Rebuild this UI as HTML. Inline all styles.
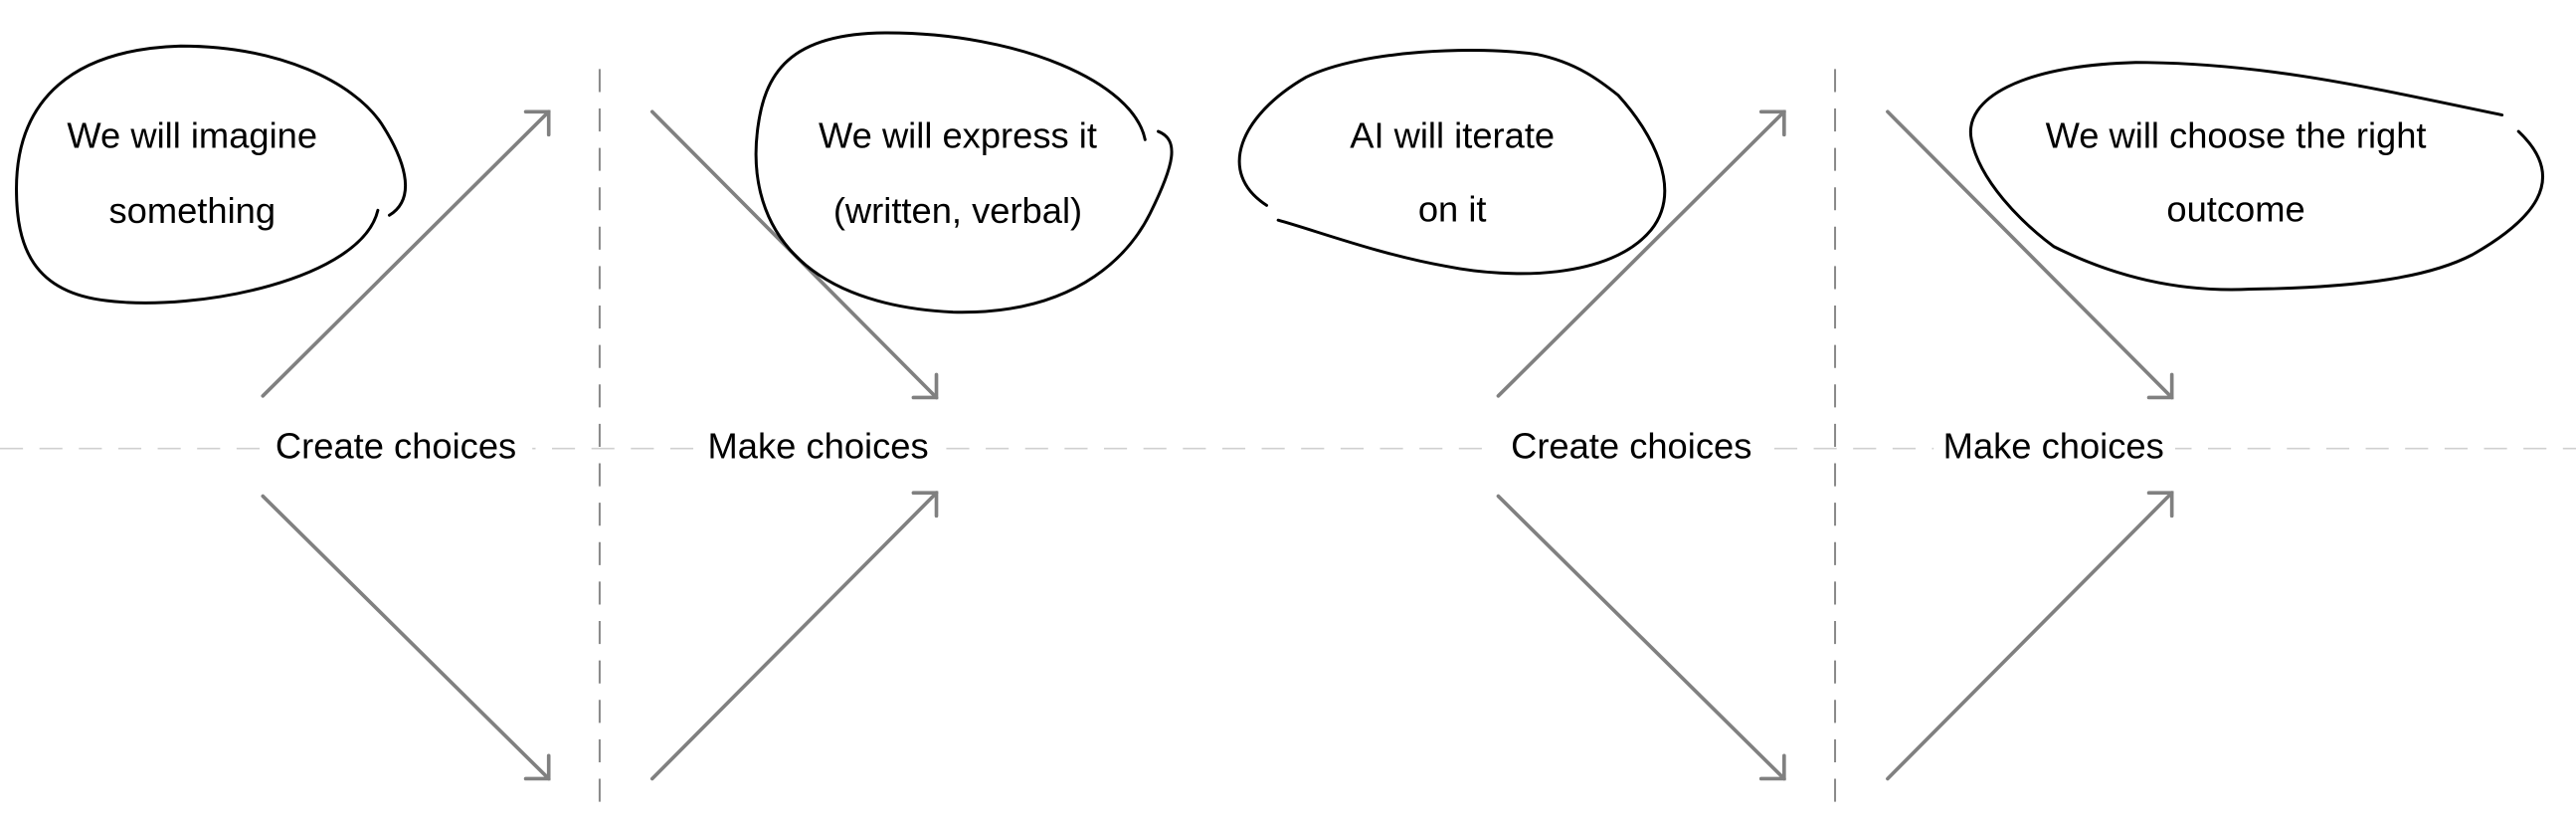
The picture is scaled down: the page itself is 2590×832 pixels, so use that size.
<!DOCTYPE html>
<html><head><meta charset="utf-8"><style>
html,body{margin:0;padding:0;background:#fff;}
svg{display:block;}
text{font-family:"Liberation Sans",sans-serif;font-size:22px;fill:#000;text-anchor:middle;dominant-baseline:middle;}
</style></head><body>
<svg width="2590" height="832" viewBox="0 0 1568 504" preserveAspectRatio="none" xmlns="http://www.w3.org/2000/svg">
<line x1="0" y1="273" x2="1568" y2="273" stroke="#d0d0d0" stroke-width="1" stroke-dasharray="14,10"/>
<line x1="365" y1="42" x2="365" y2="490" stroke="#888" stroke-width="1.2" stroke-dasharray="14,10"/>
<line x1="1117" y1="42" x2="1117" y2="490" stroke="#888" stroke-width="1.2" stroke-dasharray="14,10"/>
<g stroke="#808080" stroke-width="2.2" fill="none" stroke-linecap="round">
<g id="set">
<line x1="160" y1="241" x2="334" y2="68"/><polyline points="320,68 334,68 334,82"/>
<line x1="160" y1="302" x2="334" y2="474"/><polyline points="320,474 334,474 334,460"/>
<line x1="397" y1="68" x2="570" y2="242"/><polyline points="556,242 570,242 570,228"/>
<line x1="397" y1="474" x2="570" y2="300"/><polyline points="556,300 570,300 570,314"/>
</g>
<use href="#set" transform="translate(752,0)"/>
</g>
<rect x="158" y="260" width="166" height="26" fill="#fff"/>
<rect x="425" y="260" width="147" height="26" fill="#fff"/>
<rect x="910" y="260" width="166" height="26" fill="#fff"/>
<rect x="1177" y="260" width="147" height="26" fill="#fff"/>
<g stroke="#000" stroke-width="1.8" fill="none" stroke-linecap="round">
<path d="M230,128 C220,170 120,190 65,183 C20,178 10,150 10,115 C10,60 45,30 110,28 C170,28 215,50 232,75 C245,95 255,120 237,131"/>
<path d="M697,85 C690,50 620,20 540,20 C480,20 465,45 461,80 C455,130 480,185 580,190 C660,192 690,150 700,130 C715,100 718,85 705,80"/>
<path d="M771,125 C740,105 755,70 795,47 C830,30 900,28 935,33 C960,38 975,50 985,58 C1005,80 1025,115 1005,140 C980,170 920,170 880,162 C840,155 800,140 778,134"/>
<path d="M1523,70 C1450,55 1380,38 1300,38 C1230,40 1195,60 1200,85 C1205,110 1230,135 1250,150 C1290,170 1330,178 1370,176 C1440,175 1480,168 1505,155 C1540,135 1565,110 1533,80"/>
</g>
<text x="241" y="273">Create choices</text>
<text x="498" y="273">Make choices</text>
<text x="993" y="273">Create choices</text>
<text x="1250" y="273">Make choices</text>
<text x="117" y="84">We will imagine</text>
<text x="117" y="130">something</text>
<text x="583" y="84">We will express it</text>
<text x="583" y="130">(written, verbal)</text>
<text x="884" y="84">AI will iterate</text>
<text x="884" y="129">on it</text>
<text x="1361" y="84">We will choose the right</text>
<text x="1361" y="129">outcome</text>
</svg>
</body></html>
